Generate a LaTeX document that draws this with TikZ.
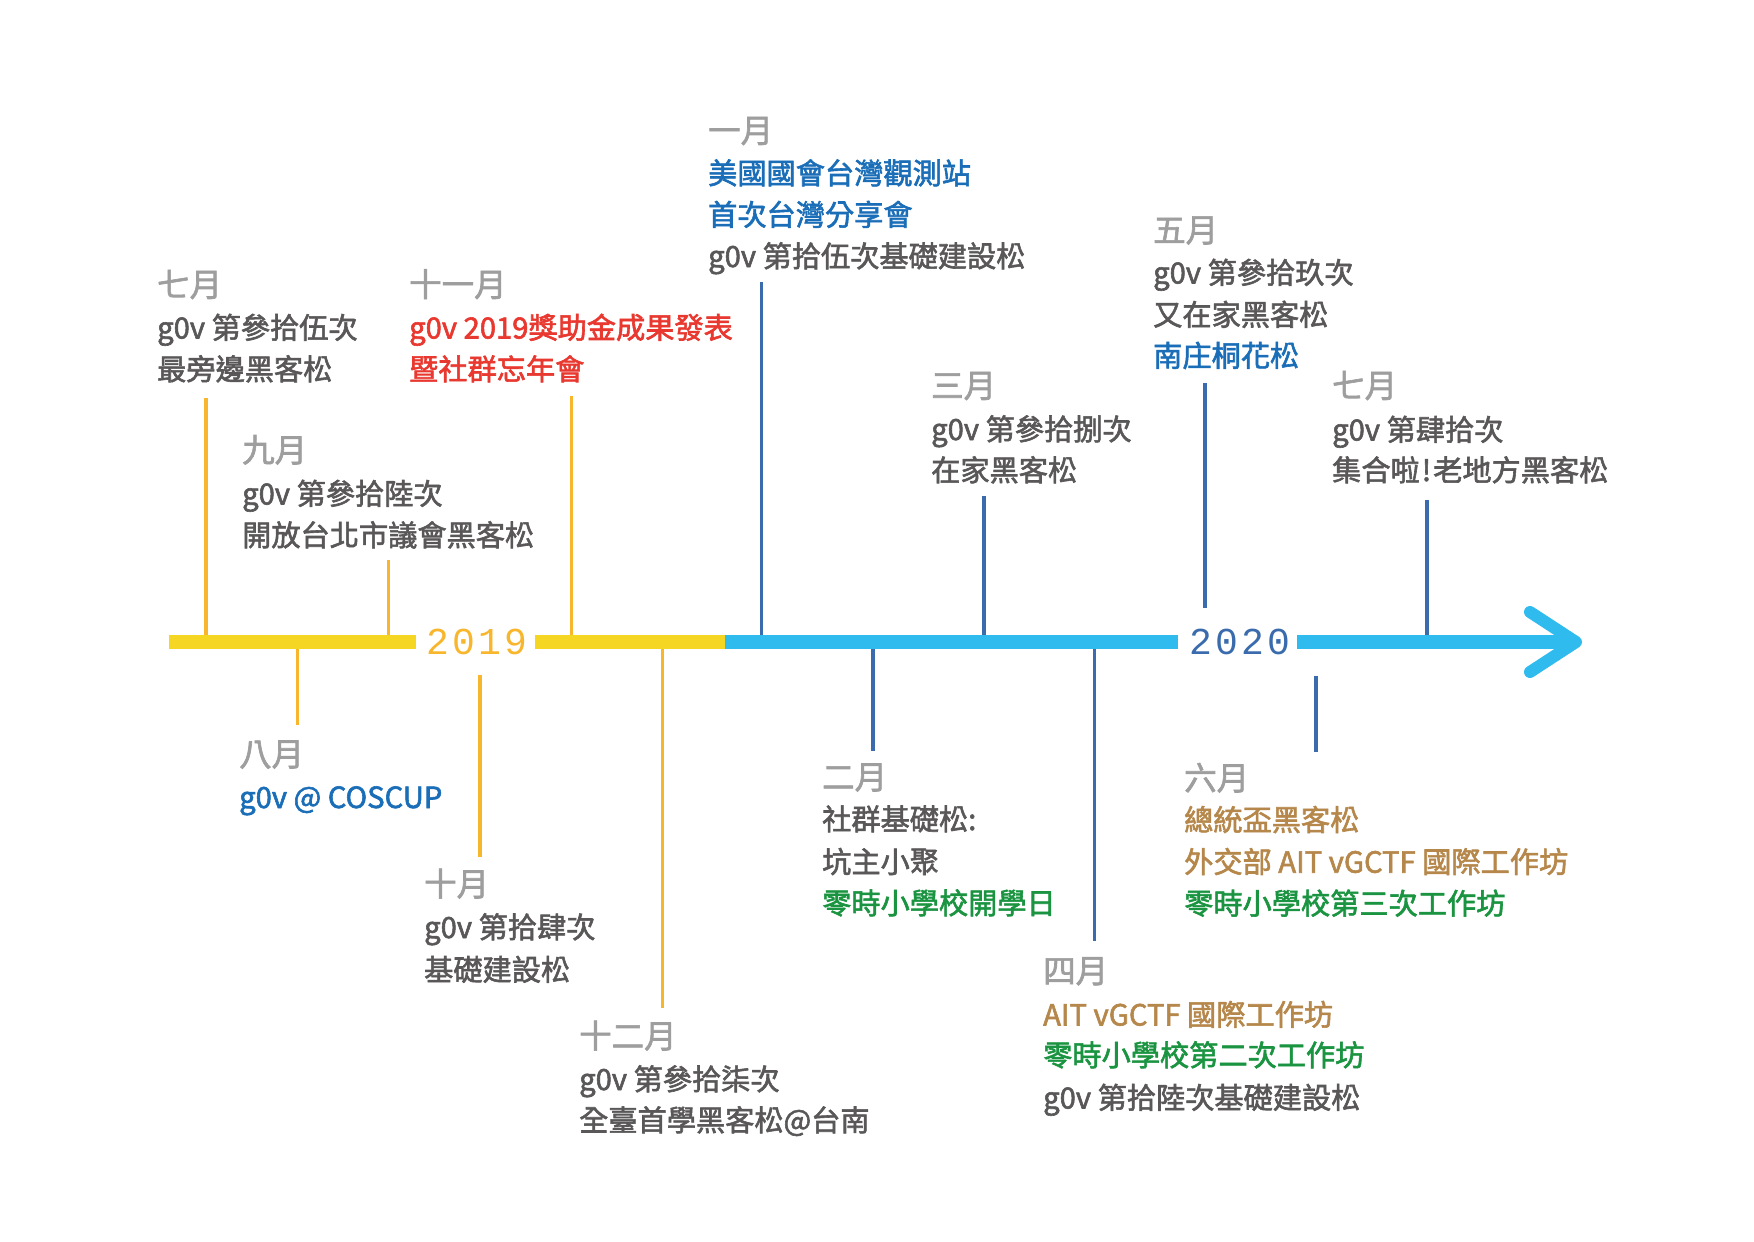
\documentclass[tikz,border=0pt]{standalone}
\usepackage{fontspec}
\newfontfamily\cjk[FakeBold=2.0]{Noto Sans CJK TC}
\newfontfamily\yearfont[LetterSpace=8]{Liberation Mono}
\definecolor{cYellow}{HTML}{F5D622}
\definecolor{cOrange}{HTML}{F8B62D}
\definecolor{cSky}{HTML}{30BBEE}
\definecolor{cNavy}{HTML}{3A6BAC}
\definecolor{cMonth}{HTML}{9E9E9E}
\definecolor{cBody}{HTML}{595757}
\definecolor{cBlueT}{HTML}{1A6EB8}
\definecolor{cRedT}{HTML}{E8382F}
\definecolor{cGreenT}{HTML}{1A9440}
\definecolor{cBrownT}{HTML}{B6874A}
\begin{document}
\begin{tikzpicture}[x=1pt,y=-1pt,
  month/.style={inner sep=0pt, anchor=base west, text=cMonth, font=\cjk\fontsize{32.5}{32.5}\selectfont},
  ev/.style={inner sep=0pt, anchor=base west, text=cBody, font=\cjk\fontsize{29.2}{29.2}\selectfont},
  tickY/.style={draw=cOrange, line width=3.5pt},
  tickB/.style={draw=cNavy, line width=3.5pt},
  barY/.style={draw=cYellow, line width=14pt},
  barB/.style={draw=cSky, line width=14pt},
  yr/.style={inner sep=0pt, anchor=center, font=\yearfont\fontsize{38}{38}\selectfont}
]
\fill[white] (0,0) rectangle (1754,1242);
\useasboundingbox (0,0) rectangle (1754,1242);

% ---------- tick coordinates ----------
\coordinate (a1) at (206,398);    \coordinate (a2) at (206,642);
\coordinate (b1) at (388.5,560);  \coordinate (b2) at (388.5,642);
\coordinate (c1) at (571.5,396);  \coordinate (c2) at (571.5,642);
\coordinate (h1) at (297.5,642);  \coordinate (h2) at (297.5,725);
\coordinate (i1) at (480,675);    \coordinate (i2) at (480,857);
\coordinate (j1) at (662.5,642);  \coordinate (j2) at (662.5,1008);
\coordinate (d1) at (761.5,282);  \coordinate (d2) at (761.5,642);
\coordinate (k1) at (873,642);    \coordinate (k2) at (873,751);
\coordinate (g1) at (984,496);    \coordinate (g2) at (984,642);
\coordinate (e1) at (1205,383);   \coordinate (e2) at (1205,608);
\coordinate (l1) at (1094.5,642); \coordinate (l2) at (1094.5,941);
\coordinate (m1) at (1316,676);   \coordinate (m2) at (1316,752);
\coordinate (f1) at (1427,500);   \coordinate (f2) at (1427,642);

\draw[tickY] (a1) -- (a2);
\draw[tickY] (b1) -- (b2);
\draw[tickY] (c1) -- (c2);
\draw[tickY] (h1) -- (h2);
\draw[tickY] (i1) -- (i2);
\draw[tickY] (j1) -- (j2);
\draw[tickB] (d1) -- (d2);
\draw[tickB] (k1) -- (k2);
\draw[tickB] (g1) -- (g2);
\draw[tickB] (e1) -- (e2);
\draw[tickB] (l1) -- (l2);
\draw[tickB] (m1) -- (m2);
\draw[tickB] (f1) -- (f2);

% ---------- axis ----------
\coordinate (ax0) at (169,642);
\coordinate (ax1) at (416,642);
\coordinate (ax2) at (535,642);
\coordinate (ax3) at (725,642);
\coordinate (ax4) at (1178,642);
\coordinate (ax5) at (1297,642);
\coordinate (tip) at (1576,642);
\coordinate (armU) at (1530,612);
\coordinate (armD) at (1530,672);
\draw[barY] (ax0) -- (ax1);
\draw[barY] (ax2) -- (ax3);
\draw[barB] (ax3) -- (ax4);
\draw[barB] (ax5) -- (tip);
\draw[draw=cSky, line width=12pt, line cap=round, line join=round] (armU) -- (tip) -- (armD);

\node[yr, text=cOrange] (y2019) at (477,642) {2019};
\node[yr, text=cNavy] (y2020) at (1240,642) {2020};

% ---------- 2019 七月 ----------
\node[month] (A0) at (157,296.5) {七月};
\node[ev] (A1) at (157,338.5) {g0v 第參拾伍次};
\node[ev] (A2) at (157,380) {最旁邊黑客松};
% ---------- 九月 ----------
\node[month] (B0) at (242,462) {九月};
\node[ev] (B1) at (242,504.5) {g0v 第參拾陸次};
\node[ev] (B2) at (242,546) {開放台北市議會黑客松};
% ---------- 十一月 ----------
\node[month] (C0) at (409,296.5) {十一月};
\node[ev, text=cRedT] (C1) at (409,338.5) {g0v 2019獎助金成果發表};
\node[ev, text=cRedT] (C2) at (409,380) {暨社群忘年會};
% ---------- 一月 ----------
\node[month] (D0) at (708,142.5) {一月};
\node[ev, text=cBlueT] (D1) at (708,184) {美國國會台灣觀測站};
\node[ev, text=cBlueT] (D2) at (708,225.5) {首次台灣分享會};
\node[ev] (D3) at (708,267) {g0v 第拾伍次基礎建設松};
% ---------- 五月 ----------
\node[month] (E0) at (1153,242) {五月};
\node[ev] (E1) at (1153,283.5) {g0v 第參拾玖次};
\node[ev] (E2) at (1153,325.5) {又在家黑客松};
\node[ev, text=cBlueT] (E3) at (1153,366.5) {南庄桐花松};
% ---------- 2020 七月 ----------
\node[month] (F0) at (1332,397.5) {七月};
\node[ev] (F1) at (1332,440.5) {g0v 第肆拾次};
\node[ev] (F2) at (1332,481) {集合啦\kern2pt!\kern2pt老地方黑客松};
% ---------- 三月 ----------
\node[month] (G0) at (931,397.5) {三月};
\node[ev] (G1) at (931,440) {g0v 第參拾捌次};
\node[ev] (G2) at (931,481) {在家黑客松};
% ---------- 八月 ----------
\node[month] (H0) at (239,766) {八月};
\node[ev, text=cBlueT] (H1) at (239,808) {g0v @ COSCUP};
% ---------- 十月 ----------
\node[month] (I0) at (424,896) {十月};
\node[ev] (I1) at (424,938) {g0v 第拾肆次};
\node[ev] (I2) at (424,980.5) {基礎建設松};
% ---------- 十二月 ----------
\node[month] (J0) at (579,1048) {十二月};
\node[ev] (J1) at (579,1090) {g0v 第參拾柒次};
\node[ev] (J2) at (579,1131) {全臺首學黑客松@台南};
% ---------- 二月 ----------
\node[month] (K0) at (822,789) {二月};
\node[ev] (K1) at (822,830) {社群基礎松:};
\node[ev] (K2) at (822,872.7) {坑主小聚};
\node[ev, text=cGreenT] (K3) at (822,914) {零時小學校開學日};
% ---------- 四月 ----------
\node[month] (L0) at (1043,982.8) {四月};
\node[ev, text=cBrownT] (L1) at (1043,1025.5) {AIT vGCTF 國際工作坊};
\node[ev, text=cGreenT] (L2) at (1043,1066) {零時小學校第二次工作坊};
\node[ev] (L3) at (1043,1108.5) {g0v 第拾陸次基礎建設松};
% ---------- 六月 ----------
\node[month] (M0) at (1184,790) {六月};
\node[ev, text=cBrownT] (M1) at (1184,830.7) {總統盃黑客松};
\node[ev, text=cBrownT] (M2) at (1184,872.7) {外交部 AIT vGCTF 國際工作坊};
\node[ev, text=cGreenT] (M3) at (1184,914.3) {零時小學校第三次工作坊};
\end{tikzpicture}
\end{document}
